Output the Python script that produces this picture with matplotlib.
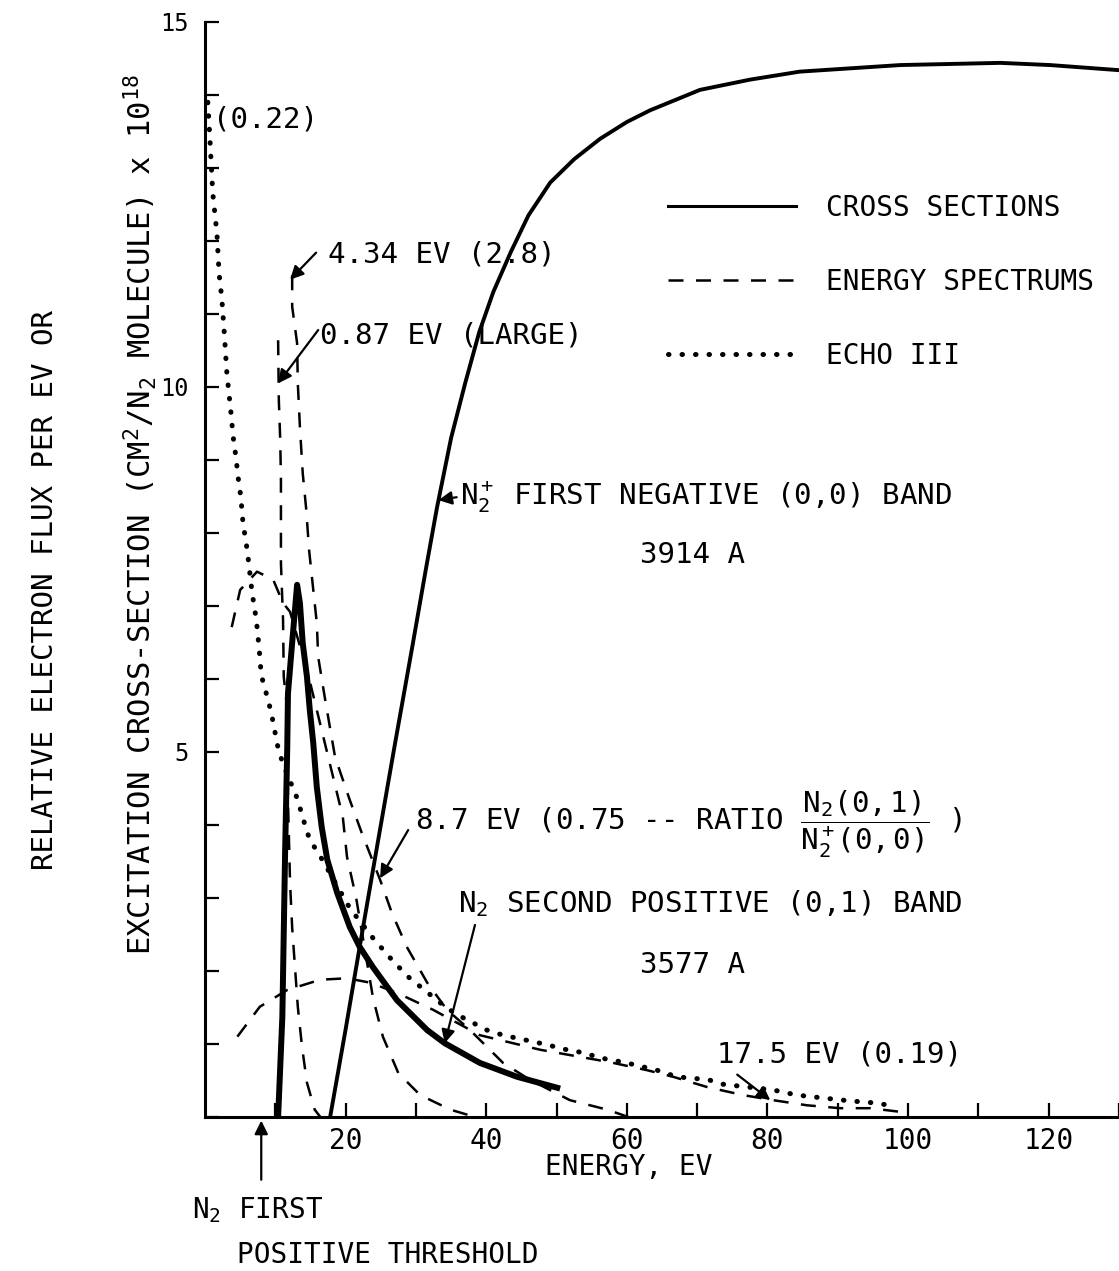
import matplotlib.pyplot as plt

plt.rcParams['font.family'] = ['DejaVu Sans Mono', 'DejaVu Sans']
plt.rcParams['mathtext.fontset'] = 'custom'
plt.rcParams['mathtext.rm'] = 'DejaVu Sans Mono'
plt.rcParams['mathtext.it'] = 'DejaVu Sans Mono'
plt.rcParams['mathtext.bf'] = 'DejaVu Sans Mono:bold'

# cross sections (x 10^18 cm^2)
n2_sec_x = [10.4, 11.0, 11.4, 11.7, 11.8, 12.4, 13.1, 13.5, 13.9, 14.5, 14.9, 15.4, 15.9,
            16.6, 17.4, 18.8, 20.6, 22.0, 23.9, 27.3, 31.6, 34.1, 39.1, 44.4, 50.1]
n2_sec_y = [0.0, 1.37, 3.66, 5.07, 5.8, 6.5, 7.29, 7.04, 6.49, 6.03, 5.58, 5.12, 4.52,
            3.97, 3.52, 3.07, 2.60, 2.33, 2.05, 1.60, 1.19, 1.01, 0.74, 0.55, 0.40]

n2p_neg_x = [17.8, 20.0, 22.0, 24.5, 27.0, 29.5, 31.5, 33.0, 35.0, 37.0, 39.0, 41.0, 43.5,
             46.0, 49.1, 52.5, 56.2, 60.0, 63.3, 70.4, 77.5, 84.6, 98.9, 113.1, 120.2, 130.0]
n2p_neg_y = [0.0, 1.2, 2.33, 3.72, 5.1, 6.45, 7.55, 8.35, 9.3, 10.05, 10.75, 11.3, 11.85,
             12.35, 12.8, 13.12, 13.4, 13.63, 13.79, 14.07, 14.21, 14.32, 14.41, 14.44,
             14.41, 14.34]

# energy spectrums
spec_087_x = [10.4, 10.5, 10.7, 10.8, 10.8, 10.8, 11.1, 11.2, 11.7, 11.8, 12.1, 12.4, 12.8,
              13.2, 13.8, 14.5, 15.6, 16.4]
spec_087_y = [10.64, 9.82, 9.27, 8.73, 8.14, 7.59, 6.81, 6.03, 5.58, 4.34, 3.2, 2.59, 2.05,
              1.51, 0.96, 0.47, 0.1, 0.0]

spec_tall_x = [12.4, 12.4, 13.1, 13.2, 13.5, 13.9, 14.4, 14.8, 15.4, 15.9, 16.1, 17.1, 18.5,
               20.6, 22.3, 24.9, 26.6, 28.7, 31.6, 34.4, 37.7, 42.4, 46.2, 51.9, 57.2, 60.2]
spec_tall_y = [11.53, 11.1, 10.6, 10.05, 9.45, 8.82, 8.32, 7.77, 7.22, 6.77, 6.3, 5.71, 4.93,
               4.34, 3.89, 3.25, 2.79, 2.33, 1.84, 1.47, 1.19, 0.74, 0.51, 0.23, 0.1, 0.0]

spec_arc_x = [3.8, 5.0, 7.4, 9.7, 11.1, 12.1, 14.7, 19.6, 20.2, 21.5, 23.9, 25.3, 27.5, 30.6,
              34.9, 38.4]
spec_arc_y = [6.71, 7.22, 7.47, 7.36, 7.04, 6.92, 6.05, 4.11, 3.56, 3.0, 1.63, 1.1, 0.6, 0.3,
              0.1, 0.0]

spec_175_x = [4.6, 7.8, 11.7, 16.4, 20.2, 23.5, 27.3, 32.4, 39.1, 47.7, 57.6, 62.9, 66.6,
              71.4, 76.5, 80.8, 85.6, 90.3, 94.6, 98.9]
spec_175_y = [1.10, 1.51, 1.74, 1.88, 1.90, 1.84, 1.70, 1.47, 1.12, 0.92, 0.75, 0.64, 0.55,
              0.41, 0.30, 0.23, 0.16, 0.12, 0.12, 0.07]

# Echo III
echo_x = [0.4, 0.7, 1.1, 1.7, 2.0, 2.4, 2.7, 3.1, 3.4, 3.7, 4.0, 4.4, 4.7, 5.1, 5.4, 6.0,
          6.7, 7.3, 7.7, 8.0, 8.5, 9.4, 10.1, 10.5, 11.2, 11.9, 12.8, 13.4, 13.9, 14.5,
          15.2, 16.1, 20.6, 23.9, 26.6, 28.9, 34.4, 36.7, 40.1, 42.4, 45.8, 48.6, 51.5,
          53.8, 56.2, 60.0, 64.3, 67.1, 71.6, 73.5, 80.8, 84.2, 87.9, 91.7, 95.6, 97.2]
echo_y = [13.9, 13.4, 12.66, 12.1, 11.56, 11.2, 10.8, 10.2, 9.92, 9.64, 9.32, 9.04, 8.77,
          8.49, 8.14, 7.77, 7.18, 6.81, 6.42, 6.05, 5.88, 5.55, 5.2, 5.0, 4.82, 4.64, 4.45,
          4.27, 4.11, 3.9, 3.75, 3.62, 2.86, 2.45, 2.15, 1.92, 1.49, 1.36, 1.19, 1.12, 1.05,
          0.99, 0.92, 0.88, 0.81, 0.74, 0.64, 0.55, 0.51, 0.45, 0.37, 0.30, 0.26, 0.22,
          0.19, 0.16]

fig = plt.figure(figsize=(11.19, 12.71), dpi=100)
ax = fig.add_axes([0.1832, 0.1212, 0.8168, 0.8615])

dash = dict(color='black', lw=1.8, dashes=(6, 5))
ax.plot(n2_sec_x, n2_sec_y, color='black', lw=4.3, solid_joinstyle='round',
        label='CROSS SECTIONS')
ax.plot(n2p_neg_x, n2p_neg_y, color='black', lw=2.8, solid_joinstyle='round')
ax.plot(spec_087_x, spec_087_y, **dash)
ax.plot(spec_tall_x, spec_tall_y, **dash)
ax.plot(spec_arc_x, spec_arc_y, **dash)
ax.plot(spec_175_x, spec_175_y, label='ENERGY SPECTRUMS', **dash)
ax.plot(echo_x, echo_y, color='black', lw=3.6, linestyle=(0, (0.1, 2.6)),
        dash_capstyle='round', label='ECHO III')

ax.set_xlim(0, 130)
ax.set_ylim(0, 15)
for s in ['top', 'right']:
    ax.spines[s].set_visible(False)
for s in ['left', 'bottom']:
    ax.spines[s].set_linewidth(2.2)

ax.set_xticks(range(10, 131, 10))
ax.set_xticklabels(['' if v % 20 else str(v) for v in range(10, 131, 10)])
ax.set_yticks([5, 10, 15])
ax.yaxis.set_minor_locator(plt.MultipleLocator(1))
ax.tick_params(axis='x', direction='in', length=10, width=1.6, labelsize=20, pad=7)
ax.tick_params(axis='y', which='both', direction='in', length=10, width=1.6,
               labelsize=17, pad=12)

leg = ax.legend(loc='upper left', bbox_to_anchor=(0.5066, 0.843), frameon=False,
                fontsize=20, handlelength=4.6, handletextpad=1.1, labelspacing=1.65,
                borderpad=0, borderaxespad=0)
leg.get_lines()[0].set_linewidth(2.2)

fs = 21
arw = dict(arrowstyle='-|>', color='black', lw=1.6, mutation_scale=20,
           shrinkA=0, shrinkB=0)

ax.text(1.14, 13.66, '(0.22)', fontsize=fs, va='center')
ax.text(17.5, 11.81, '4.34 EV (2.8)', fontsize=fs, va='center')
ax.annotate('', xy=(12.1, 11.47), xytext=(15.8, 11.84), arrowprops=arw)
ax.text(16.4, 10.71, '0.87 EV (LARGE)', fontsize=fs, va='center')
ax.annotate('', xy=(10.4, 10.05), xytext=(16.1, 10.78), arrowprops=arw)
ax.text(36.3, 8.49, r'N$_2^+$ FIRST NEGATIVE (0,0) BAND', fontsize=fs, va='center')
ax.annotate('', xy=(33.2, 8.45), xytext=(35.8, 8.49), arrowprops=arw)
ax.text(61.9, 7.7, '3914 A', fontsize=fs, va='center')
ax.text(29.9, 4.0,
        r'8.7 EV (0.75 -- RATIO $\dfrac{\mathrm{N_2(0,1)}}{\mathrm{N_2^+(0,0)}}$ )',
        fontsize=fs, va='center')
ax.annotate('', xy=(24.9, 3.27), xytext=(28.9, 3.93), arrowprops=arw)
ax.text(36.0, 2.92, r'N$_2$ SECOND POSITIVE (0,1) BAND', fontsize=fs, va='center')
ax.annotate('', xy=(34.1, 1.01), xytext=(38.4, 2.63), arrowprops=arw)
ax.text(61.9, 2.08, '3577 A', fontsize=fs, va='center')
ax.text(72.8, 0.85, '17.5 EV (0.19)', fontsize=fs, va='center')
ax.annotate('', xy=(80.4, 0.23), xytext=(75.7, 0.58), arrowprops=arw)

ax.annotate('', xy=(8.0, -0.05), xytext=(8.0, -0.86), annotation_clip=False,
            arrowprops=arw)
ax.text(-1.85, -1.27, r'N$_2$ FIRST', fontsize=20, va='center')
ax.text(4.55, -1.89, 'POSITIVE THRESHOLD', fontsize=20, va='center')
ax.text(48.4, -0.68, 'ENERGY, EV', fontsize=20, va='center')

fig.text(45 / 1119, 1 - 590 / 1271, 'RELATIVE ELECTRON FLUX PER EV OR', rotation=90,
         fontsize=21, ha='center', va='center')
fig.text(140 / 1119, 1 - 515 / 1271,
         r'EXCITATION CROSS-SECTION (CM$^2$/N$_2$ MOLECULE) x 10$^{18}$', rotation=90,
         fontsize=22, ha='center', va='center')

fig.savefig('out.png', dpi=100)
